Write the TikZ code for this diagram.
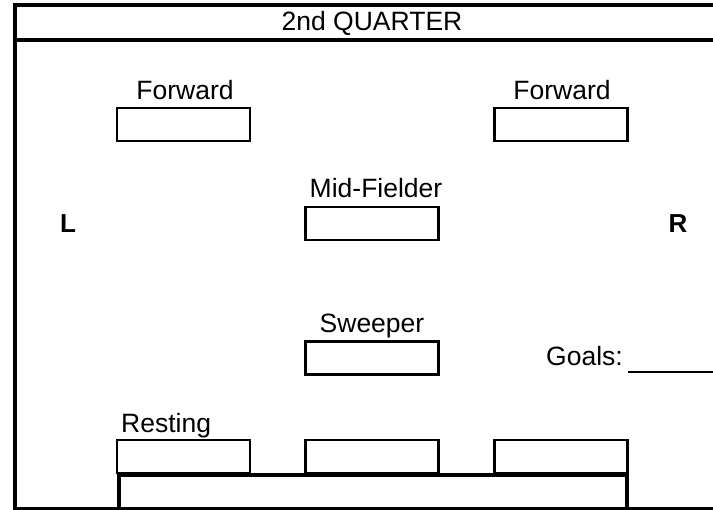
\documentclass[tikz,border=0pt]{standalone}
\usepackage{fontspec}
\setmainfont{Liberation Sans}
\begin{document}
\begin{tikzpicture}[x=1pt,y=-1pt,
  posbox/.style={draw, line width=2.5pt, minimum width=133pt, minimum height=33pt, inner sep=0pt},
  lbl/.style={font=\fontsize{26.5}{30}\selectfont, inner sep=0pt, anchor=base},
  side/.style={font=\fontsize{26}{30}\selectfont\bfseries, inner sep=0pt, anchor=base},
  thick line/.style={line width=4.5pt},
  thin line/.style={line width=2.5pt}]
\useasboundingbox (0,0) rectangle (713,510);
% frame
\draw[thick line] (13,5) -- (713,5);
\draw[thick line] (13,40) -- (713,40);
\draw[thick line] (15,3) -- (15,510);
\draw[thin line] (15,508.5) -- (713,508.5);
\node[lbl] (title) at (372,31) {2nd QUARTER};
% positions
\node[posbox] (fl) at (183.5,124.5) {};
\node[posbox] (fr) at (561,124.5) {};
\node[posbox] (mf) at (372,223.5) {};
\node[posbox] (sw) at (372,358) {};
\node[posbox] (r1) at (183.5,456.5) {};
\node[posbox] (r2) at (372,456.5) {};
\node[posbox] (r3) at (561,456.5) {};
\node[lbl] (flt) at (185,100) {Forward};
\node[lbl] (frt) at (562,100) {Forward};
\node[lbl] (mft) at (376,198) {Mid-Fielder};
\node[lbl] (swt) at (372,333) {Sweeper};
\node[lbl, anchor=base west] (rt) at (121,433) {Resting};
\node[side] (L) at (68,233) {L};
\node[side] (R) at (678,233) {R};
\node[lbl, anchor=base west] (goals) at (546,366) {Goals:};
\coordinate (g1) at (628,372);
\coordinate (g2) at (713,372);
\draw[line width=2.5pt] (g1) -- (g2);
% bench
\draw[thick line] (119,510) -- (119,475) -- (627,475) -- (627,510);
\end{tikzpicture}
\end{document}
